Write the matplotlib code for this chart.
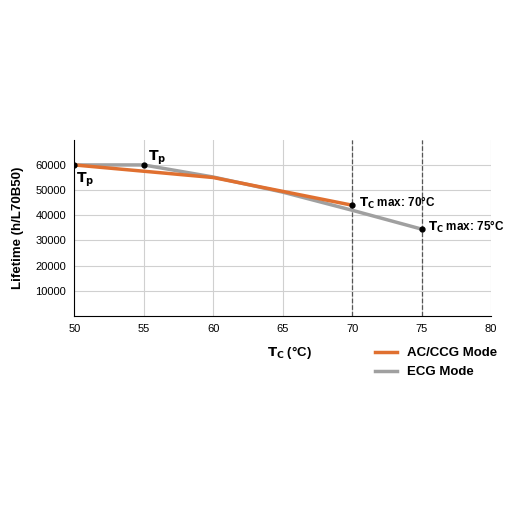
import matplotlib
matplotlib.use("Agg")
import matplotlib.pyplot as plt

tc_ac = [50, 55, 60, 65, 70]
life_ac = [60000, 57500, 55000, 49500, 44000]
tc_ecg = [50, 55, 60, 65, 70, 75]
life_ecg = [60000, 60000, 55200, 49200, 42000, 34500]
xticks = [50, 55, 60, 65, 70, 75, 80]
yticks = [10000, 20000, 30000, 40000, 50000, 60000]

plt.rcParams['font.family'] = ['Liberation Sans', 'DejaVu Sans']
fig = plt.figure(figsize=(5.12, 5.12), dpi=100)
ax = fig.add_axes([0.145, 0.383, 0.814, 0.344])
ax.set_xlim(50, 80)
ax.set_ylim(0, 70000)
ax.set_xticks(xticks)
ax.set_yticks(yticks)
ax.tick_params(length=0, labelsize=8, pad=6)
ax.grid(True, color='#d0d0d0', lw=0.8)
for s in ['top', 'right']:
    ax.spines[s].set_visible(False)
for s in ['left', 'bottom']:
    ax.spines[s].set_color('black')
    ax.spines[s].set_linewidth(0.8)
ax.axvline(70, color='#555555', ls='--', lw=0.9)
ax.axvline(75, color='#555555', ls='--', lw=0.9)
ax.plot(tc_ecg, life_ecg, color='#a0a0a0', lw=2.5, label='ECG Mode', zorder=3)
ax.plot(tc_ac, life_ac, color='#e07030', lw=2.5, label='AC/CCG Mode', zorder=4)
ax.plot([50, 55, 70, 75], [life_ac[0], life_ecg[1], life_ac[-1], life_ecg[-1]], 'o', color='black', ms=3.5, zorder=5)
ax.text(50.1, 54000, r'$\mathbf{T_p}$', fontsize=10, va='center')
ax.text(55.3, 63000, r'$\mathbf{T_p}$', fontsize=10, va='center')
ax.text(70.5, 45000, r'$\mathbf{T_C}$' + ' max: 70°C', fontsize=8.5, fontweight='bold', va='center')
ax.text(75.5, 35500, r'$\mathbf{T_C}$' + ' max: 75°C', fontsize=8.5, fontweight='bold', va='center')
ax.set_ylabel('Lifetime (h/L70B50)', fontsize=9.5, fontweight='bold', labelpad=8)
fig.text(0.565, 0.312, r'$\mathbf{T_C}$' + ' (°C)', fontsize=9.5, fontweight='bold', ha='center', va='center')
h, l = ax.get_legend_handles_labels()
fig.legend(h[::-1], l[::-1], loc='upper left', bbox_to_anchor=(0.71, 0.345), frameon=False,
           prop={'weight': 'bold', 'size': 9.5}, handlelength=1.6, labelspacing=0.5)
fig.savefig('out.png', dpi=100)
